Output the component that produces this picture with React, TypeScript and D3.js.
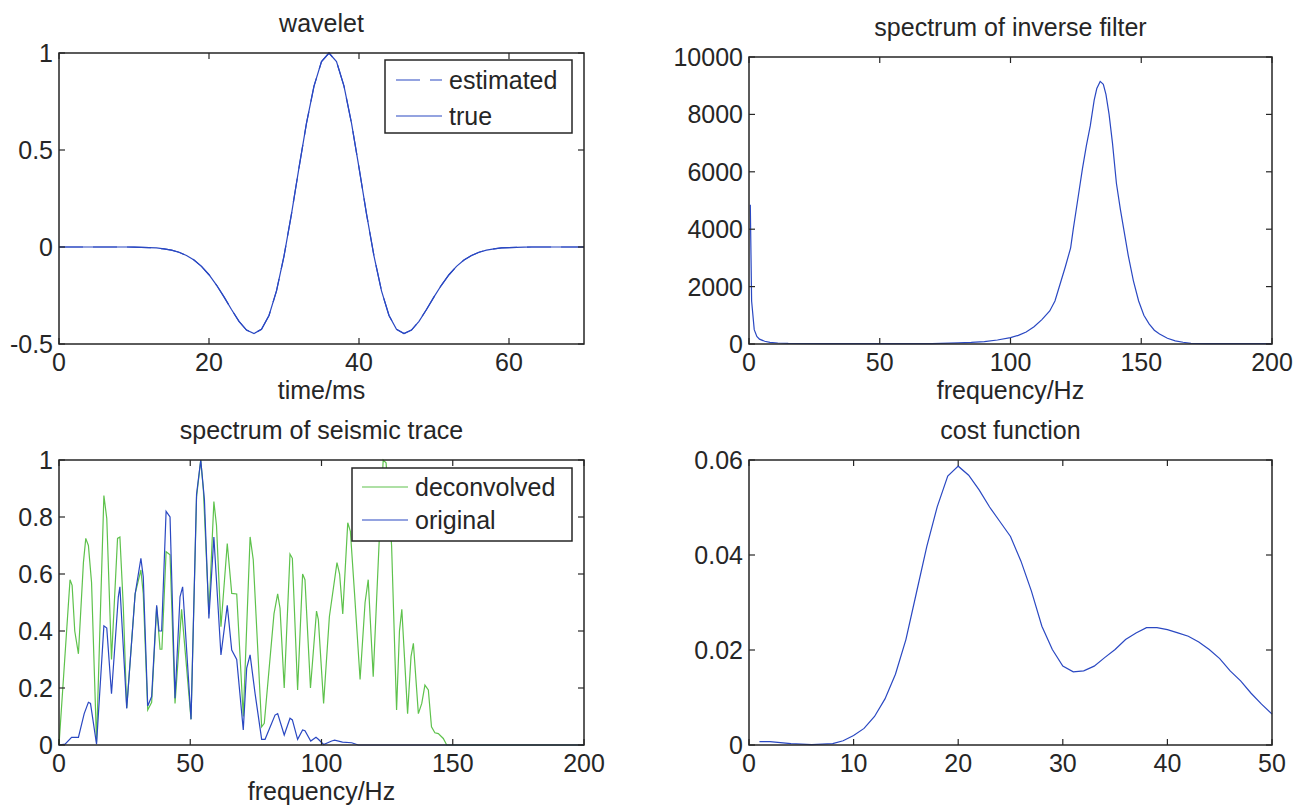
import React from 'react';
import * as d3 from 'd3';

const W = 1296;
const H = 807;
const FONT = '"Liberation Sans", Arial, Helvetica, sans-serif';
const FS = 25;
const BLUE = '#2a48c2';
const GREEN = '#5ec24c';
const INK = '#262626';

// ---------- wavelet (time in ms, amplitude) ----------
const waveletTime: number[] = d3.range(0, 71);
const waveletTrue: number[] = [
  0, 0, 0, 0, 0, 0, 0, 0, 0, 0,
  -0.001, -0.002, -0.003, -0.005, -0.010, -0.016, -0.027, -0.044, -0.067, -0.100,
  -0.143, -0.196, -0.257, -0.322, -0.383, -0.428, -0.446, -0.424, -0.353, -0.226,
  -0.047, 0.171, 0.409, 0.638, 0.829, 0.956, 1.000, 0.956, 0.829, 0.638,
  0.409, 0.171, -0.047, -0.226, -0.353, -0.424, -0.446, -0.428, -0.383, -0.322,
  -0.257, -0.196, -0.143, -0.100, -0.067, -0.044, -0.027, -0.016, -0.010, -0.005,
  -0.003, -0.002, -0.001, 0, 0, 0, 0, 0, 0, 0, 0,
];
const waveletEstimated: number[] = [
  0, 0, 0, 0, 0, 0, 0, 0, 0, 0,
  -0.001, -0.002, -0.003, -0.005, -0.010, -0.016, -0.027, -0.044, -0.067, -0.100,
  -0.143, -0.196, -0.257, -0.322, -0.383, -0.428, -0.446, -0.424, -0.353, -0.226,
  -0.047, 0.171, 0.409, 0.638, 0.829, 0.956, 1.000, 0.956, 0.829, 0.638,
  0.409, 0.171, -0.047, -0.226, -0.353, -0.424, -0.446, -0.428, -0.383, -0.322,
  -0.257, -0.196, -0.143, -0.100, -0.067, -0.044, -0.027, -0.016, -0.010, -0.005,
  -0.003, -0.002, -0.001, 0, 0, 0, 0, 0, 0, 0, 0,
];
const waveletXTicks = [0, 20, 40, 60];
const waveletYTicks = [-0.5, 0, 0.5, 1];

// ---------- spectrum of inverse filter ----------
const invFreq: number[] = [
  0.5, 1, 2, 3, 4, 6, 8, 11, 15, 30, 50, 70, 80, 85, 90, 95, 100, 103, 106, 109,
  112, 115, 117, 119, 121, 123, 124, 126, 127.5, 129, 130.5, 132, 133, 134.3, 135.5,
  136.5, 137.7, 139, 140.5, 142, 143.5, 145, 147, 149, 151, 153, 155, 157, 160, 163,
  166, 169, 175, 200,
];
const invAmp: number[] = [
  4850, 1500, 500, 260, 170, 95, 55, 35, 20, 15, 15, 15, 40, 55, 85, 140, 220, 300, 420, 600,
  850, 1150, 1500, 2100, 2700, 3350, 4000, 5200, 6100, 6900, 7600, 8500, 8900, 9150, 9050,
  8700, 8000, 7000, 5600, 4700, 3900, 3100, 2200, 1500, 1000, 700, 480, 350, 200, 110,
  60, 25, 15, 10,
];
const invXTicks = [0, 50, 100, 150, 200];
const invYTicks = [0, 2000, 4000, 6000, 8000, 10000];

// ---------- spectrum of seismic trace ----------
const deconFreq: number[] = [
  0, 1.6, 4.2, 5, 6, 7.4, 9.3, 10.2, 11.2, 12.4, 14.3, 17.1, 18.2, 20, 22.3, 23.2, 24.5, 25.8,
  29, 31.2, 32.1, 33.8, 35.3, 37.2, 38.5, 39.2, 40.8, 42.3, 44.2, 46.7, 50.3, 52.4, 54, 55,
  57.1, 59, 60, 61.7, 64.1, 65.8, 67.7, 70.2, 72.8, 74, 77.2, 78.2, 81.9, 83.3, 84.2, 85.8,
  88, 88.9, 90.9, 92.8, 93.7, 95.8, 98.1, 98.8, 100.8, 103, 105.9, 106.9, 108.1, 110, 111,
  112.6, 114.7, 116.6, 117.8, 119.7, 121.9, 123.5, 124.6, 126.7, 128.6, 129.7, 130.6, 132.8,
  134.1, 135, 136.9, 138.2, 139.4, 140.7, 141.9, 143.2, 144.5, 146.4, 147.7, 200,
];
const deconAmp: number[] = [
  0, 0.22, 0.58, 0.56, 0.40, 0.32, 0.64, 0.725, 0.70, 0.57, 0.01, 0.875, 0.795, 0.30, 0.725, 0.73, 0.485, 0.13,
  0.53, 0.614, 0.53, 0.123, 0.15, 0.485, 0.336, 0.336, 0.678, 0.667, 0.146, 0.476, 0.09, 0.87, 1.0, 0.895,
  0.46, 0.854, 0.77, 0.415, 0.707, 0.532, 0.53, 0.1, 0.73, 0.65, 0.064, 0.076, 0.46, 0.53, 0.48, 0.2,
  0.67, 0.655, 0.193, 0.6, 0.58, 0.2, 0.47, 0.44, 0.146, 0.45, 0.64, 0.6, 0.46, 0.78, 0.75,
  0.53, 0.23, 0.5, 0.58, 0.24, 0.70, 1.0, 0.99, 0.70, 0.123, 0.40, 0.476, 0.11,
  0.31, 0.357, 0.11, 0.146, 0.21, 0.193, 0.064, 0.043, 0.04, 0.023, 0, 0,
];
const origFreq: number[] = [
  0, 2.3, 4.8, 7.4, 9.6, 11.2, 12, 14.3, 17.1, 18.2, 20, 22.6, 23.2, 25.8, 29, 31.2, 32.1, 33.8,
  35.3, 37.2, 38.1, 39.1, 40.8, 42.3, 44.2, 46.1, 47.1, 50.3, 52.4, 54, 55.4, 57.1, 59, 61.7,
  64.1, 65.8, 67.7, 70.2, 71.5, 72.8, 74.7, 77.2, 78.5, 82.3, 83.3, 85.8, 88, 88.9, 90.9, 92.8,
  93.7, 95.9, 97.9, 98.8, 100.8, 103.9, 105, 108, 111.5, 114, 200,
];
const origAmp: number[] = [
  0, 0.003, 0.027, 0.027, 0.11, 0.15, 0.146, 0.003, 0.418, 0.41, 0.18, 0.52, 0.555, 0.128, 0.53, 0.655, 0.59, 0.137,
  0.17, 0.49, 0.40, 0.40, 0.82, 0.80, 0.164, 0.52, 0.555, 0.09, 0.88, 1.0, 0.86, 0.444, 0.73, 0.316,
  0.49, 0.333, 0.30, 0.053, 0.27, 0.316, 0.18, 0.02, 0.02, 0.105, 0.11, 0.035, 0.094, 0.088, 0.02, 0.053,
  0.05, 0.014, 0.027, 0.02, 0.002, 0.014, 0.017, 0.01, 0.008, 0, 0,
];
const traceXTicks = [0, 50, 100, 150, 200];
const traceYTicks = [0, 0.2, 0.4, 0.6, 0.8, 1];

// ---------- cost function ----------
const costX: number[] = d3.range(1, 51);
const costY: number[] = [
  0.0007, 0.0007, 0.0005, 0.0003, 0.0002, 0.0001, 0.0002, 0.0003, 0.0009, 0.002,
  0.0035, 0.006, 0.0097, 0.0149, 0.0222, 0.032, 0.0418, 0.0502, 0.0566, 0.0587,
  0.0568, 0.0537, 0.0501, 0.047, 0.0439, 0.0387, 0.0324, 0.025, 0.0201, 0.0166,
  0.0154, 0.0156, 0.0166, 0.0184, 0.0201, 0.0222, 0.0236, 0.0247, 0.0247, 0.0243,
  0.0236, 0.0229, 0.0217, 0.0201, 0.0182, 0.0156, 0.0135, 0.0109, 0.0086, 0.0065,
];
const costXTicks = [0, 10, 20, 30, 40, 50];
const costYTicks = [0, 0.02, 0.04, 0.06];

type Series = { x: number[]; y: number[]; color: string; dash?: string; label?: string };
type Box = { left: number; right: number; top: number; bottom: number };
type LegendSpec = { x: number; y: number; w: number; h: number; rows: number[]; lineX: [number, number]; textX: number; items: Series[] };

const TICK = 6;

function Panel(props: {
  box: Box;
  xDomain: [number, number];
  yDomain: [number, number];
  xTicks: number[];
  yTicks: number[];
  title: string;
  xlabel?: string;
  series: Series[];
  legend?: LegendSpec;
}) {
  const { box, xDomain, yDomain, xTicks, yTicks, title, xlabel, series, legend } = props;
  const x = d3.scaleLinear().domain(xDomain).range([box.left, box.right]);
  const y = d3.scaleLinear().domain(yDomain).range([box.bottom, box.top]);
  const cx = (box.left + box.right) / 2;
  return (
    <g>
      {series.map((s, i) => {
        const pts = s.x.map((xv, j) => [xv, s.y[j]] as [number, number]);
        const line = d3.line<[number, number]>().x(d => x(d[0])).y(d => y(d[1]));
        return (
          <path key={i} d={line(pts) || ''} fill="none" stroke={s.color} strokeWidth={1.2}
            strokeDasharray={s.dash} />
        );
      })}
      <rect x={box.left} y={box.top} width={box.right - box.left} height={box.bottom - box.top}
        fill="none" stroke={INK} strokeWidth={1.5} />
      {xTicks.map(t => (
        <g key={'xt' + t}>
          <line x1={x(t)} x2={x(t)} y1={box.bottom} y2={box.bottom - TICK} stroke={INK} strokeWidth={1.2} />
          <line x1={x(t)} x2={x(t)} y1={box.top} y2={box.top + TICK} stroke={INK} strokeWidth={1.2} />
          <text x={x(t)} y={box.bottom + 27} textAnchor="middle" fontSize={FS} fill={INK}>{String(t)}</text>
        </g>
      ))}
      {yTicks.map(t => (
        <g key={'yt' + t}>
          <line x1={box.left} x2={box.left + TICK} y1={y(t)} y2={y(t)} stroke={INK} strokeWidth={1.2} />
          <line x1={box.right} x2={box.right - TICK} y1={y(t)} y2={y(t)} stroke={INK} strokeWidth={1.2} />
          <text x={box.left - 6} y={y(t) + 9} textAnchor="end" fontSize={FS} fill={INK}>{String(t)}</text>
        </g>
      ))}
      <text x={cx} y={box.top - 21} textAnchor="middle" fontSize={FS} fill={INK}>{title}</text>
      {xlabel && (
        <text x={cx} y={box.bottom + 55} textAnchor="middle" fontSize={FS} fill={INK}>{xlabel}</text>
      )}
      {legend && (
        <g>
          <rect x={legend.x} y={legend.y} width={legend.w} height={legend.h} fill="#fff" stroke={INK} strokeWidth={1.5} />
          {legend.items.map((s, i) => (
            <g key={'lg' + i}>
              <line x1={legend.x + legend.lineX[0]} x2={legend.x + legend.lineX[1]}
                y1={legend.y + legend.rows[i]} y2={legend.y + legend.rows[i]}
                stroke={s.color} strokeWidth={1.2} strokeDasharray={s.dash} />
              <text x={legend.x + legend.textX} y={legend.y + legend.rows[i] + 9} fontSize={FS} fill={INK}>{s.label}</text>
            </g>
          ))}
        </g>
      )}
    </g>
  );
}

export default function App() {
  const estimated: Series = { x: waveletTime, y: waveletEstimated, color: BLUE, dash: '24,10', label: 'estimated' };
  const truth: Series = { x: waveletTime, y: waveletTrue, color: BLUE, label: 'true' };
  const decon: Series = { x: deconFreq, y: deconAmp, color: GREEN, label: 'deconvolved' };
  const orig: Series = { x: origFreq, y: origAmp, color: BLUE, label: 'original' };
  return (
    <svg width={W} height={H} viewBox={`0 0 ${W} ${H}`}
      style={{ position: 'absolute', left: 0, top: 0, background: '#fff', fontFamily: FONT }}>
      <rect x={0} y={0} width={W} height={H} fill="#fff" />
      <Panel
        box={{ left: 59, right: 584, top: 53, bottom: 344 }}
        xDomain={[0, 70]} yDomain={[-0.5, 1]}
        xTicks={waveletXTicks} yTicks={waveletYTicks}
        title="wavelet" xlabel="time/ms"
        series={[truth, estimated]}
        legend={{ x: 385, y: 60, w: 187, h: 73, rows: [20, 56], lineX: [11, 57], textX: 64, items: [estimated, truth] }}
      />
      <Panel
        box={{ left: 749, right: 1272, top: 57, bottom: 344 }}
        xDomain={[0, 200]} yDomain={[0, 10000]}
        xTicks={invXTicks} yTicks={invYTicks}
        title="spectrum of inverse filter" xlabel="frequency/Hz"
        series={[{ x: invFreq, y: invAmp, color: BLUE }]}
      />
      <Panel
        box={{ left: 59, right: 584, top: 460, bottom: 745 }}
        xDomain={[0, 200]} yDomain={[0, 1]}
        xTicks={traceXTicks} yTicks={traceYTicks}
        title="spectrum of seismic trace" xlabel="frequency/Hz"
        series={[decon, orig]}
        legend={{ x: 352, y: 468, w: 220, h: 73, rows: [19, 52], lineX: [10, 56], textX: 63, items: [decon, orig] }}
      />
      <Panel
        box={{ left: 749, right: 1272, top: 460, bottom: 745 }}
        xDomain={[0, 50]} yDomain={[0, 0.06]}
        xTicks={costXTicks} yTicks={costYTicks}
        title="cost function"
        series={[{ x: costX, y: costY, color: BLUE }]}
      />
    </svg>
  );
}
